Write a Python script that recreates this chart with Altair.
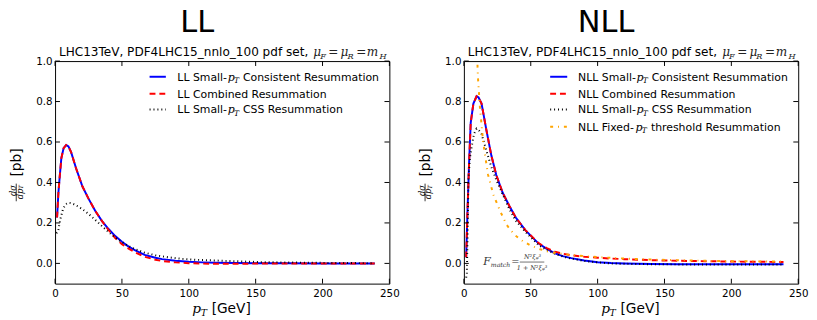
import altair as alt
import pandas as pd

# ---------------- data ----------------
x_ticks = [0, 50, 100, 150, 200, 250]
y_ticks = [0.0, 0.2, 0.4, 0.6, 0.8, 1.0]

ll_x = [1.5, 2.5, 3.5, 4.7, 6.4, 8.3, 10, 12, 15.7, 20.5, 25, 30, 35, 40, 45, 50, 55, 60, 67, 75,
        80, 90, 100, 110, 120, 135, 150, 175, 200, 220, 239]
ll_cons_y = [0.227, 0.35, 0.43, 0.52, 0.57, 0.585, 0.578, 0.55, 0.47, 0.38, 0.32, 0.26, 0.21, 0.17,
             0.135, 0.107, 0.083, 0.064, 0.042, 0.028, 0.021, 0.013, 0.008, 0.005, 0.003, 0.002,
             0.001, 0.0005, 0.0, 0.0, 0.0]
ll_comb_y = [0.227, 0.35, 0.43, 0.52, 0.57, 0.585, 0.578, 0.55, 0.47, 0.38, 0.32, 0.26, 0.21, 0.165,
             0.125, 0.095, 0.073, 0.054, 0.033, 0.018, 0.012, 0.005, 0.001, -0.001, -0.002, -0.002,
             -0.001, 0.0, 0.0, 0.0, 0.0]
ll_css_x = [1, 2.2, 4, 6, 8, 10, 12, 15, 20, 25, 30, 35, 40, 47, 55, 60, 67, 75, 85, 94, 105,
            125, 155, 180, 210, 239]
ll_css_y = [0.15, 0.155, 0.22, 0.27, 0.293, 0.30, 0.298, 0.29, 0.27, 0.245, 0.215, 0.185, 0.155,
            0.118, 0.085, 0.07, 0.053, 0.04, 0.03, 0.023, 0.018, 0.013, 0.006, 0.004, 0.002, 0.001]

nll_x = [1.7, 2.7, 3.9, 5.1, 7.1, 9.5, 11, 13.2, 16.8, 20.5, 24.2, 29.1, 34, 38.8, 46.1, 55.9, 62,
         68.1, 74, 80.3, 90, 100, 110, 120, 140, 160, 180, 200, 220, 239]
nll_cons_y = [0.03, 0.26, 0.50, 0.695, 0.79, 0.826, 0.82, 0.79, 0.66, 0.534, 0.437, 0.348, 0.284,
              0.227, 0.163, 0.098, 0.072, 0.05, 0.036, 0.026, 0.014, 0.006, 0.002, 0.0, -0.003,
              -0.004, -0.004, -0.004, -0.004, -0.004]
nll_comb_y = [0.03, 0.26, 0.50, 0.695, 0.79, 0.826, 0.82, 0.79, 0.66, 0.534, 0.437, 0.348, 0.284,
              0.227, 0.163, 0.1, 0.076, 0.058, 0.048, 0.04, 0.033, 0.028, 0.024, 0.021, 0.016,
              0.013, 0.011, 0.009, 0.008, 0.007]
nll_css_x = [1.7, 2.2, 2.8, 3.4, 4.5, 5.9, 7.5, 9.5, 11, 13.2, 16.8, 20.5, 24.2, 29.1, 34, 38.8,
             46.1, 55.9, 62, 68, 75, 80, 90, 100, 110, 120, 140, 160, 200, 239]
nll_css_y = [-0.07, -0.05, 0.15, 0.42, 0.52, 0.58, 0.64, 0.666, 0.66, 0.64, 0.558, 0.477, 0.413,
             0.34, 0.268, 0.211, 0.155, 0.09, 0.066, 0.048, 0.032, 0.024, 0.012, 0.005, 0.0,
             -0.002, -0.004, -0.005, -0.005, -0.005]
nll_thr_x = [9.8, 10.5, 12, 14.4, 18, 22, 27, 32, 38, 44, 50, 57, 63, 70, 80, 90, 100, 120, 140,
             160, 180, 200, 220, 239]
nll_thr_y = [1.05, 0.92, 0.77, 0.6, 0.44, 0.34, 0.26, 0.19, 0.14, 0.11, 0.088, 0.07, 0.058, 0.05,
             0.042, 0.036, 0.031, 0.024, 0.019, 0.016, 0.013, 0.011, 0.01, 0.009]

# ---------------- layout / style ----------------
W, H = 341, 227
SANS = "DejaVu Sans"
SERIF = "DejaVu Serif"
BLUE, RED, BLACK, ORANGE = "#0000ff", "#ff0000", "#000000", "#ffa500"
DASHED, DOTTED, DASHDOT = [6, 4], [1, 3], [3, 5, 1, 5]
LEG = 11.1

xs = alt.Scale(domain=[0, 250], nice=False, zero=False)
ys = alt.Scale(domain=[-0.1, 1.0], nice=False, zero=False)
ax_x = alt.Axis(values=x_ticks, ticks=False, tickSize=0, domain=False, grid=False,
                labelFontSize=10.5, labelFont=SANS, labelColor="black", labelPadding=5,
                labelFlush=False, labelOverlap=False)
ax_y = alt.Axis(values=y_ticks, ticks=False, tickSize=0, domain=False, grid=False, format=".1f",
                labelFontSize=10.5, labelFont=SANS, labelColor="black", labelPadding=3,
                labelFlush=False, labelOverlap=False)

EM = {' ': 0.318, '-': 0.361, 'L': 0.557, 'N': 0.748, 'S': 0.635, 'm': 0.974, 'a': 0.613,
      'l': 0.278, 'F': 0.575, 'i': 0.278, 'x': 0.592, 'e': 0.615, 'd': 0.635}


def width(s, size):
    return sum(EM.get(c, 0.6) for c in s) * size


def line(xv, yv, color, dash=None):
    kw = dict(color=color, strokeWidth=2, clip=True)
    if dash:
        kw["strokeDash"] = dash
    df = pd.DataFrame({"x": xv, "y": yv})
    return alt.Chart(df).mark_line(**kw).encode(
        x=alt.X("x:Q", scale=xs, axis=ax_x, title=None),
        y=alt.Y("y:Q", scale=ys, axis=ax_y, title=None),
        order=alt.Order("x:Q"))


def txt(s, x, y, size, font=SANS, italic=False, align="left", baseline="alphabetic",
        angle=0, color="black"):
    kw = dict(fontSize=size, font=font, align=align, baseline=baseline, color=color)
    if italic:
        kw["fontStyle"] = "italic"
    if angle:
        kw["angle"] = angle
    return alt.Chart(pd.DataFrame({"t": [s]})).mark_text(**kw).encode(
        text="t:N", x=alt.value(x), y=alt.value(y))


def seg(x1, x2, y1, y2, color="black", w=1, dash=None):
    kw = dict(color=color, strokeWidth=w)
    if dash:
        kw["strokeDash"] = dash
    return alt.Chart(pd.DataFrame({"a": [0]})).mark_rule(**kw).encode(
        x=alt.value(x1), x2=alt.value(x2), y=alt.value(y1), y2=alt.value(y2))


def tick_layers():
    tx = pd.DataFrame({"v": x_ticks})
    ty = pd.DataFrame({"v": y_ticks})
    xe = alt.X("v:Q", scale=xs, axis=ax_x, title=None)
    ye = alt.Y("v:Q", scale=ys, axis=ax_y, title=None)
    r = dict(color="black", strokeWidth=1)
    return [
        alt.Chart(tx).mark_rule(**r).encode(x=xe, y=alt.value(H), y2=alt.value(H - 5)),
        alt.Chart(tx).mark_rule(**r).encode(x=xe, y=alt.value(0), y2=alt.value(5)),
        alt.Chart(ty).mark_rule(**r).encode(y=ye, x=alt.value(0), x2=alt.value(5)),
        alt.Chart(ty).mark_rule(**r).encode(y=ye, x=alt.value(W), x2=alt.value(W - 5)),
    ]


def deco_layers(title):
    L = []
    # big title
    L.append(txt(title, 145, -30, 31, align="center"))
    # subtitle
    L.append(txt("LHC13TeV, PDF4LHC15_nnlo_100 pdf set,", 4, -5.3, 12.3))
    mc = "#222222"
    for s, xx, sub in [("μ", 263.4, False), ("F", 270.4, True), ("=", 278.7, None),
                       ("μ", 291.2, False), ("R", 298.2, True), ("=", 307.2, None),
                       ("m", 318.0, False), ("H", 331.0, True)]:
        if sub is None:
            L.append(txt(s, xx, -5.3, 12.3, font=SERIF, color=mc))
        elif sub:
            L.append(txt(s, xx, -2.6, 8.3, font=SERIF, italic=True, color=mc))
        else:
            L.append(txt(s, xx, -5.3, 12.3, font=SERIF, italic=True, color=mc))
    # x title
    L.append(txt("p", 140, 257.3, 14, font=SERIF, italic=True))
    L.append(txt("T", 148.5, 260.5, 9.5, font=SERIF, italic=True))
    L.append(txt("[GeV]", 159.7, 257.3, 14))
    # y title
    L.append(txt("[pb]", -39, 103.5, 14, align="center", baseline="middle", angle=270))
    L.append(txt("dσ", -42.5, 132, 8.5, font=SERIF, italic=True, align="center",
                 baseline="middle", angle=270))
    L.append(seg(-39.6, -39.6, 125, 143, w=0.8))
    L.append(txt("dp", -36.1, 135.5, 8.5, font=SERIF, italic=True, align="center",
                 baseline="middle", angle=270))
    L.append(txt("T", -34.3, 128.5, 6, font=SERIF, italic=True, align="center",
                 baseline="middle", angle=270))
    return L


def legend_layers(entries, sx1, sx2, lx):
    L = []
    rows = [16, 33.3, 49.3, 67]
    for (pre, post, color, dash), ry in zip(entries, rows):
        L.append(seg(sx1, sx2, ry, ry, color=color, w=2, dash=dash))
        base = ry + 4.0
        L.append(txt(pre, lx, base, LEG))
        if post is not None:
            px = lx + width(pre, LEG) + 0.6
            L.append(txt("p", px, base, LEG, font=SERIF, italic=True))
            L.append(txt("T", px + 6.4, base + 2.5, 7.8, font=SERIF, italic=True))
            L.append(txt(post, px + 15.6, base, LEG))
    return L


def fmatch_layers():
    c = "#333333"
    return [
        txt("F", 19.7, 208.3, 11, font=SERIF, italic=True, color=c),
        txt("match", 27.5, 210.5, 6.3, font=SERIF, italic=True, color=c),
        txt("=", 48.3, 208.3, 10, font=SERIF, color=c),
        seg(57, 82, 205, 205, color=c, w=0.7),
        txt("N²ξᵩ³", 70, 202.0, 6.5, font=SERIF, italic=True, align="center", color=c),
        txt("1 + N²ξᵩ³", 69.5, 213.5, 6.5, font=SERIF, italic=True, align="center", color=c),
    ]


left_layers = [
    line(ll_x, ll_cons_y, BLUE),
    line(ll_x, ll_comb_y, RED, DASHED),
    line(ll_css_x, ll_css_y, BLACK, DOTTED),
] + tick_layers() + deco_layers("LL") + legend_layers([
    ("LL Small-", "Consistent Resummation", BLUE, None),
    ("LL Combined Resummation", None, RED, DASHED),
    ("LL Small-", "CSS Resummation", BLACK, DOTTED),
], 96.4, 113, 124.7)

right_layers = [
    line(nll_x, nll_cons_y, BLUE),
    line(nll_x, nll_comb_y, RED, DASHED),
    line(nll_css_x, nll_css_y, BLACK, DOTTED),
    line(nll_thr_x, nll_thr_y, ORANGE, DASHDOT),
] + tick_layers() + deco_layers("NLL") + fmatch_layers() + legend_layers([
    ("NLL Small-", "Consistent Resummation", BLUE, None),
    ("NLL Combined Resummation", None, RED, DASHED),
    ("NLL Small-", "CSS Resummation", BLACK, DOTTED),
    ("NLL Fixed-", "threshold Resummation", ORANGE, DASHDOT),
], 88, 105.4, 116.4)

left = alt.layer(*left_layers).properties(width=W, height=H)
right = alt.layer(*right_layers).properties(width=W, height=H)

chart = alt.hconcat(left, right, spacing=18).properties(
    padding={"left": 1, "top": -5, "right": 0, "bottom": 0},
    background="white",
).configure_view(stroke="black", strokeWidth=1)

chart.save("out.html", embed_options={"renderer": "svg", "actions": False})
